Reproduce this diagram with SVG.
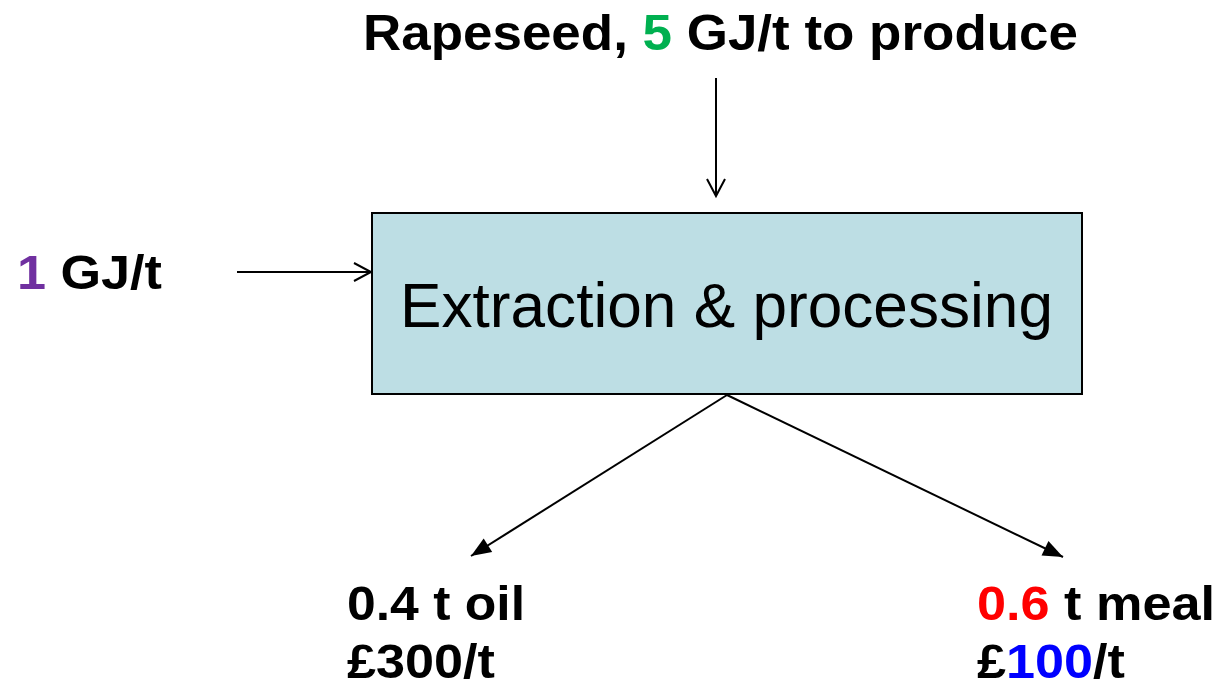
<svg xmlns="http://www.w3.org/2000/svg" width="1221" height="688" viewBox="0 0 1221 688">
<style>
.lbl{font-family:"Liberation Sans",Arial,sans-serif;font-weight:bold;font-size:48px;fill:#000}
.title{font-size:50px}
.box{fill:#BDDEE4;stroke:#000;stroke-width:2}
.main{font-family:"Liberation Sans",Arial,sans-serif;font-size:63px;fill:#000}
.conn{stroke:#000;stroke-width:2;fill:none}
.g{fill:#00B050}.p{fill:#7030A0}.r{fill:#FF0000}.b{fill:#0000FF}
</style>
<defs>
<marker id="open" markerUnits="userSpaceOnUse" markerWidth="24" markerHeight="24" viewBox="0 0 24 24" refX="20" refY="12" orient="auto">
<path d="M3,3 L20,12 L3,21" fill="none" stroke="#000" stroke-width="2"/>
</marker>
<marker id="solid" markerUnits="userSpaceOnUse" markerWidth="24" markerHeight="24" viewBox="0 0 24 24" refX="21" refY="12" orient="auto">
<path d="M1,4 L21,12 L1,20 Z" fill="#000"/>
</marker>
</defs>
<g id="connectors">
<line class="conn" x1="716" y1="78" x2="716" y2="196" marker-end="url(#open)"/>
<line class="conn" x1="237" y1="272" x2="371" y2="272" marker-end="url(#open)"/>
<line class="conn" x1="727" y1="395" x2="471" y2="556" marker-end="url(#solid)"/>
<line class="conn" x1="727" y1="395" x2="1063" y2="557" marker-end="url(#solid)"/>
</g>
<g id="rapeseed">
<text class="lbl title" x="363" y="50" textLength="715" lengthAdjust="spacingAndGlyphs">Rapeseed, <tspan class="g">5</tspan> GJ/t to produce</text>
</g>
<g id="energy">
<text class="lbl" x="17" y="289" textLength="145" lengthAdjust="spacingAndGlyphs"><tspan class="p">1</tspan> GJ/t</text>
</g>
<g id="process">
<rect class="box" x="372" y="213" width="710" height="181"/>
<text class="main" x="400" y="327" textLength="653" lengthAdjust="spacingAndGlyphs">Extraction &amp; processing</text>
</g>
<g id="oil">
<text class="lbl" x="347" y="620" textLength="178" lengthAdjust="spacingAndGlyphs">0.4 t oil</text>
<text class="lbl" x="347" y="678" textLength="148" lengthAdjust="spacingAndGlyphs">£300/t</text>
</g>
<g id="meal">
<text class="lbl" x="977" y="620" textLength="238" lengthAdjust="spacingAndGlyphs"><tspan class="r">0.6</tspan> t meal</text>
<text class="lbl" x="977" y="678" textLength="148" lengthAdjust="spacingAndGlyphs">£<tspan class="b">100</tspan>/t</text>
</g>
</svg>
